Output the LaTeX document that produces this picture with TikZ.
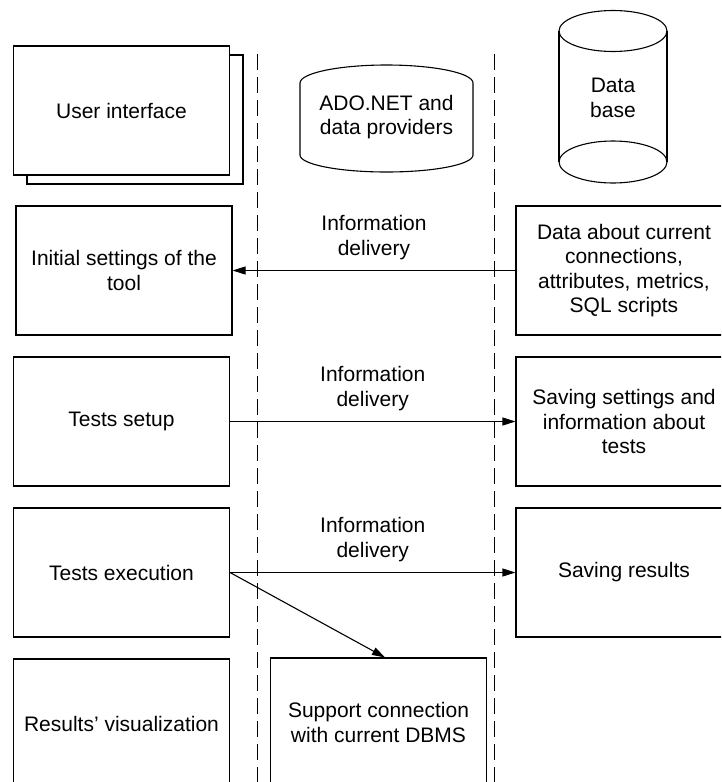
\documentclass[tikz,border=0pt]{standalone}
\usepackage{fontspec}
\setmainfont{Liberation Sans}
\usetikzlibrary{arrows.meta,calc}
\begin{document}
\begin{tikzpicture}[x=1pt,y=-1pt, line width=1.1pt,
  txt/.style={font=\fontsize{21}{24.5}\selectfont, align=center, inner sep=0pt},
  blk/.style={txt, draw, fill=white, minimum width=216, minimum height=129},
  arr/.style={-{Triangle[length=13pt,width=8pt]}},
  lane/.style={dash pattern=on 16pt off 7pt}]
\useasboundingbox (0,0) rectangle (721,782);
\clip (0,0) rectangle (721,782);

% swimlane separators
\coordinate (l1t) at (257.5,54);
\coordinate (l1b) at (257.5,790);
\coordinate (l2t) at (494.5,54);
\coordinate (l2b) at (494.5,790);
\draw[lane] (l1t) -- (l1b);
\draw[lane] (l2t) -- (l2b);

% user interface (stacked)
\node[blk] (uiback) at (135,119.5) {};
\node[blk] (ui) at (121.5,110.5) {User interface};

% ADO.NET store
\draw (300,83) .. controls (300,73.1) and (338.7,65) .. (386.5,65)
      .. controls (434.3,65) and (473,73.1) .. (473,83)
      -- (473,155) .. controls (473,164.4) and (434.3,172) .. (386.5,172)
      .. controls (338.7,172) and (300,164.4) .. (300,155) -- cycle;
\node[txt] (ado) at (386.5,117) {ADO.NET and\\data providers};

% database cylinder
\draw (613,31) ellipse [x radius=54, y radius=20.5];
\draw (559,31) -- (559,162);
\draw (667,31) -- (667,162);
\draw (613,162) ellipse [x radius=54, y radius=21];
\node[txt] (db) at (613,98) {Data\\base};

% left column
\node[blk] (init) at (124,270.5) {Initial settings of the\\tool};
\node[blk] (setup) at (121.5,421.5) {Tests setup};
\node[blk] (exec) at (121.5,572.5) {Tests execution};
\node[blk] (vis) at (121.5,723.5) {Results’ visualization};

% middle column
\node[blk] (supp) at (378.5,722.5) {Support connection\\with current DBMS};

% right column
\node[blk] (data) at (624,270.5) {Data about current\\connections,\\attributes, metrics,\\SQL scripts};
\node[blk] (save) at (624,421.5) {Saving settings and\\information about\\tests};
\node[blk] (res) at (624,572.5) {Saving results};

% connectors
\draw[arr] (data.west) -- (init.east);
\draw[arr] (setup.east) -- (save.west);
\draw[arr] (exec.east) -- (res.west);
\draw[arr] (exec.east) -- ([xshift=6.5pt]supp.north);

% labels
\node[txt] (lab1) at ($(init.east)!0.5!(data.west)+(0,-33)$) {Information\\delivery};
\node[txt] (lab2) at ($(setup.east)!0.5!(save.west)+(0,-33)$) {Information\\delivery};
\node[txt] (lab3) at ($(exec.east)!0.5!(res.west)+(0,-33)$) {Information\\delivery};
\end{tikzpicture}
\end{document}
